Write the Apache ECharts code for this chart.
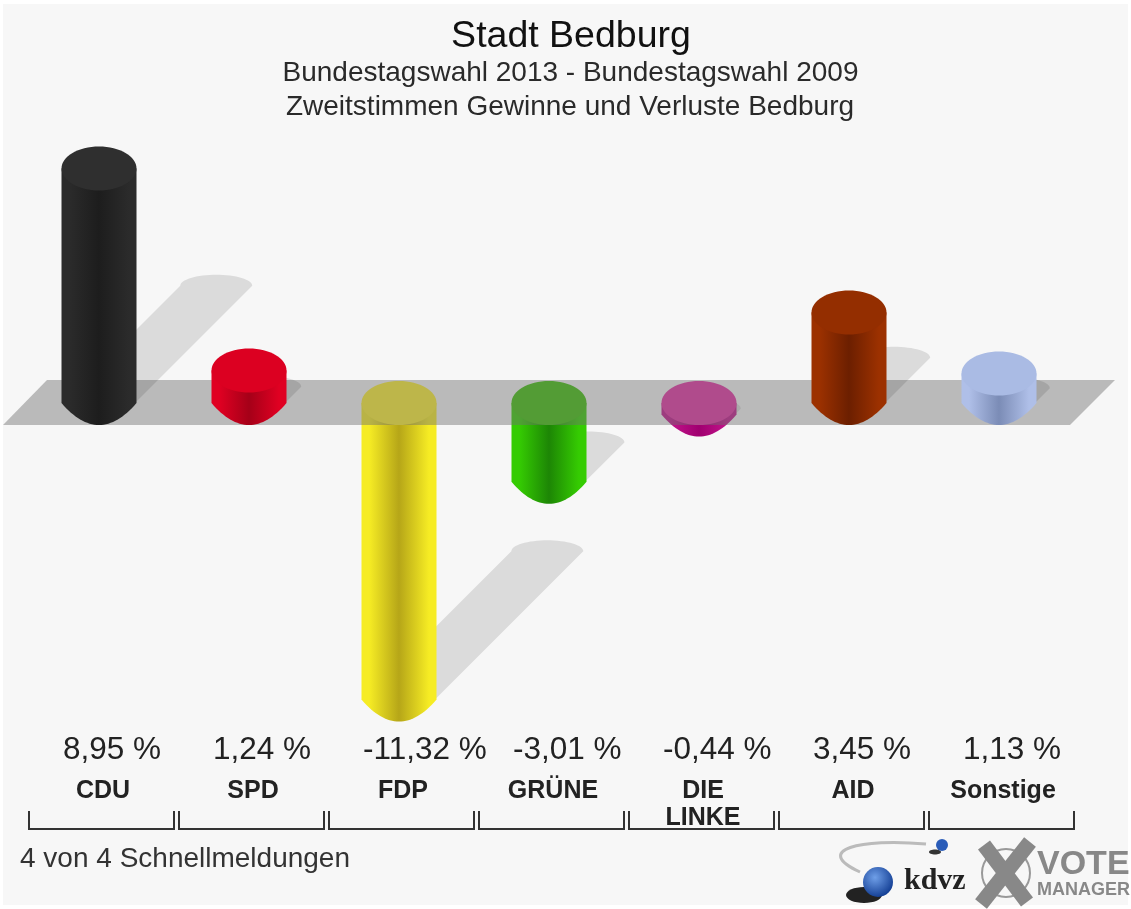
<!DOCTYPE html>
<html>
<head>
<meta charset="utf-8">
<title>Stadt Bedburg</title>
<style>
    html, body { margin: 0; padding: 0; background: #fff; }
    #chart { width: 1131px; height: 909px; }
</style>
<script src="https://cdn.jsdelivr.net/npm/echarts@6/dist/echarts.min.js"></script>
</head>
<body>
<div id="chart"></div>
<script>
var categories = ['CDU', 'SPD', 'FDP', 'GRÜNE', 'DIE\nLINKE', 'AID', 'Sonstige'];
var values = [8.95, 1.24, -11.32, -3.01, -0.44, 3.45, 1.13];
var valueLabels = ['8,95 %', '1,24 %', '-11,32 %', '-3,01 %', '-0,44 %', '3,45 %', '1,13 %'];
var sideColors = ['#2b2b2b', '#e00022', '#f6ec24', '#35cc02', '#c4148c', '#9c3100', '#afbfe8'];
var darkColors = ['#1d1d1d', '#a50018', '#b6a618', '#1d8605', '#a00070', '#6c1f00', '#7b8cb6'];
var capColors = ['#2f2f2f', '#dc0021', '#fdf02c', '#3cc206', '#e52fa5', '#942e00', '#aabbe4'];

var halfWidth = 37.5;
var capHeight = 22;

// points of an ellipse arc, angles in radians
function arc(cx, cy, rx, ry, from, to) {
    var pts = [];
    for (var i = 0; i <= 32; i++) {
        var a = from + (to - from) * i / 32;
        pts.push([cx + rx * Math.cos(a), cy + ry * Math.sin(a)]);
    }
    return pts;
}

// unteres Ende der Saeule, spitzer als eine Ellipse
function tip(cx, cy, rx, ry) {
    var pts = [];
    for (var i = 0; i <= 32; i++) {
        var u = 1 - 2 * i / 32;
        pts.push([cx + rx * u, cy + ry * (1 - u * u)]);
    }
    return pts;
}

function renderBar(params, api) {
    var i = params.dataIndex;
    var x = api.coord([i, 0])[0];
    var y0 = api.coord([i, 0])[1];
    var yv = api.coord([i, api.value(1)])[1];
    var top = Math.min(y0, yv);
    var bottom = Math.max(y0, yv);
    var negative = api.value(1) < 0;

    // Schatten laeuft nach rechts oben, halbe Balkenhoehe
    var t = (bottom - top) * 0.5;
    var shadowPts = [[x - 36, bottom], [x + 36, bottom]]
        .concat(arc(x + t, bottom - t, 36, 11, 0, -Math.PI));

    var bodyPts = [[x + halfWidth, top]]
        .concat(tip(x, bottom, halfWidth, capHeight))
        .concat([[x - halfWidth, top]]);

    return {
        type: 'group',
        children: [
            {
                type: 'polygon',
                z2: negative ? 1 : 20,
                shape: { points: shadowPts },
                style: { fill: 'rgba(0,0,0,0.11)' }
            },
            {
                type: 'polygon',
                z2: negative ? 2 : 30,
                shape: { points: bodyPts },
                style: {
                    fill: new echarts.graphic.LinearGradient(0, 0, 1, 0, [
                        { offset: 0, color: sideColors[i] },
                        { offset: 0.1, color: sideColors[i] },
                        { offset: 0.5, color: darkColors[i] },
                        { offset: 0.9, color: sideColors[i] },
                        { offset: 1, color: sideColors[i] }
                    ])
                }
            },
            {
                type: 'ellipse',
                z2: negative ? 3 : 31,
                shape: { cx: x, cy: top, rx: halfWidth, ry: capHeight },
                style: { fill: capColors[i] }
            }
        ]
    };
}

// graue Bodenplatte um die Nulllinie
function renderFloor(params, api) {
    var y0 = api.coord([0, 0])[1];
    return {
        type: 'polygon',
        z2: 10,
        shape: {
            points: [[3, y0 + 22], [47, y0 - 23], [1115, y0 - 23], [1070, y0 + 22]]
        },
        style: { fill: 'rgba(110,110,110,0.45)' }
    };
}

function renderLabel(params, api) {
    var x = api.coord([params.dataIndex, 0])[0];
    return {
        type: 'text',
        style: {
            x: x - 36,
            y: 750,
            text: valueLabels[params.dataIndex],
            fill: '#222',
            font: '31.5px "Liberation Sans"',
            align: 'left',
            verticalAlign: 'middle'
        }
    };
}

function renderBracket(params, api) {
    var x = api.coord([params.dataIndex, 0])[0];
    return {
        type: 'polyline',
        shape: { points: [[x - 70, 811], [x - 70, 829], [x + 75, 829], [x + 75, 811]] },
        style: { stroke: '#333', lineWidth: 2, fill: null }
    };
}

var chart = echarts.init(document.getElementById('chart'));

var option = {
    animation: false,
    backgroundColor: '#fff',
    title: [
        { text: 'Stadt Bedburg', left: 566, top: 13, textAlign: 'center',
          textStyle: { fontFamily: 'Liberation Sans', fontSize: 37.5, fontWeight: 'normal', color: '#111' } },
        { text: 'Bundestagswahl 2013 - Bundestagswahl 2009', left: 565.5, top: 54, textAlign: 'center',
          textStyle: { fontFamily: 'Liberation Sans', fontSize: 28, fontWeight: 'normal', color: '#2a2a2a' } },
        { text: 'Zweitstimmen Gewinne und Verluste Bedburg', left: 565, top: 88, textAlign: 'center',
          textStyle: { fontFamily: 'Liberation Sans', fontSize: 28, fontWeight: 'normal', color: '#2a2a2a' } },
        { text: '4 von 4 Schnellmeldungen', left: 15, top: 840,
          textStyle: { fontFamily: 'Liberation Sans', fontSize: 28, fontWeight: 'normal', color: '#333' } }
    ],
    grid: { left: 24, width: 1050, top: 141, height: 576.4 },
    xAxis: {
        type: 'category',
        data: categories,
        axisLine: { show: false },
        axisTick: { show: false },
        axisLabel: {
            interval: 0,
            margin: 60,
            padding: [0, 0, 0, 8],
            fontFamily: 'Liberation Sans',
            fontSize: 25,
            fontWeight: 'bold',
            lineHeight: 27,
            color: '#222'
        }
    },
    yAxis: { type: 'value', min: -12, max: 10, show: false },
    graphic: [
        { type: 'rect', z: -10, silent: true, shape: { x: 3, y: 4, width: 1125, height: 901 }, style: { fill: '#f7f7f7' } },
        // kdvz Logo
        { type: 'bezierCurve', shape: { x1: 860, y1: 872, cpx1: 812, cpy1: 850, cpx2: 860, cpy2: 838, x2: 926, y2: 844 },
          style: { stroke: '#bbb', lineWidth: 3, fill: null } },
        { type: 'ellipse', shape: { cx: 864, cy: 895, rx: 18, ry: 8 }, style: { fill: '#222' } },
        { type: 'circle', shape: { cx: 878, cy: 882, r: 15 },
          style: { fill: new echarts.graphic.RadialGradient(0.4, 0.35, 0.7, [
              { offset: 0, color: '#6f9fe8' }, { offset: 1, color: '#0f3a90' }]) } },
        { type: 'ellipse', shape: { cx: 935, cy: 852, rx: 6, ry: 2.5 }, style: { fill: '#333' } },
        { type: 'circle', shape: { cx: 942, cy: 845, r: 6 }, style: { fill: '#2a5cb8' } },
        { type: 'text', style: { x: 904, y: 896, text: 'kdvz', fill: '#222', font: 'bold 30px "Liberation Serif"', textVerticalAlign: 'bottom' } },
        // VOTE MANAGER Logo
        { type: 'circle', shape: { cx: 1006, cy: 873, r: 24 }, style: { stroke: '#999', lineWidth: 2, fill: null } },
        { type: 'line', shape: { x1: 984, y1: 845, x2: 1027, y2: 902 }, style: { stroke: '#888', lineWidth: 15 } },
        { type: 'line', shape: { x1: 1030, y1: 842, x2: 981, y2: 904 }, style: { stroke: '#888', lineWidth: 15 } },
        { type: 'text', style: { x: 1037, y: 882, text: 'VOTE', fill: '#888', font: 'bold 34px "Liberation Sans"', textVerticalAlign: 'bottom' } },
        { type: 'text', style: { x: 1037, y: 899, text: 'MANAGER', fill: '#888', font: 'bold 18px "Liberation Sans"', textVerticalAlign: 'bottom' } }
    ],
    series: [
        { type: 'custom', renderItem: renderFloor, data: [0], clip: false, silent: true },
        { type: 'custom', renderItem: renderBar, data: values.map(function (v, i) { return [i, v]; }), clip: false, silent: true },
        { type: 'custom', renderItem: renderLabel, data: values.map(function (v, i) { return [i, v]; }), clip: false, silent: true },
        { type: 'custom', renderItem: renderBracket, data: values.map(function (v, i) { return [i, v]; }), clip: false, silent: true }
    ]
};
chart.setOption(option);
</script>
</body>
</html>
